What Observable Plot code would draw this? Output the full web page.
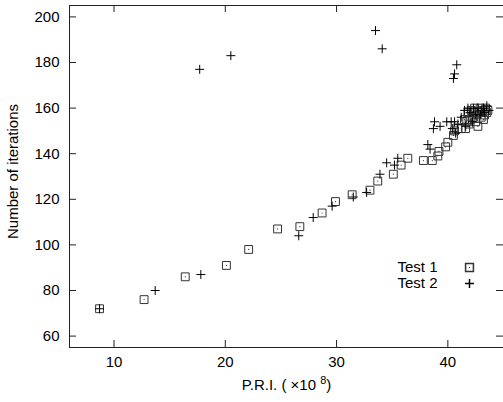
<!DOCTYPE html>
<html><head><meta charset="utf-8">
<script src="https://cdn.jsdelivr.net/npm/d3@7"></script>
<script src="https://cdn.jsdelivr.net/npm/@observablehq/plot@0.6"></script>
<style>body{margin:0;background:#fff} svg{display:block}</style>
</head><body><div id="chart"></div>
<script>
const seriesNames = ["Test 1", "Test 2"];
const xTicks = [10, 20, 30, 40];
const yTicks = [60, 80, 100, 120, 140, 160, 180, 200];

const test1PRI  = [8.7, 12.7, 16.4, 20.1, 22.1, 24.7, 26.7, 28.7, 29.9, 31.4, 33.0, 33.7, 35.1, 35.8, 36.4, 37.8, 38.6, 39.1, 39.2, 39.8, 40.0, 40.5, 40.6, 40.9, 41.2, 41.6, 41.7, 41.9, 42.0, 42.2, 42.3, 42.5, 42.6, 42.8, 43.0, 43.1, 43.3, 43.5, 43.6, 42.1, 41.8, 42.9, 43.4, 42.4, 41.5, 42.7, 43.2];
const test1Iter = [72, 76, 86, 91, 98, 107, 108, 114, 119, 122, 124, 128, 131, 135, 138, 137, 137, 139, 141, 143, 145, 148, 150, 151, 151, 151, 154, 153, 155, 156, 158, 154, 157, 158, 156, 159, 157, 158, 159, 159, 158, 160, 160, 160, 155, 152, 155];

const test2PRI  = [8.7, 13.7, 17.8, 17.7, 20.5, 26.6, 27.9, 29.6, 31.5, 32.7, 33.9, 33.5, 34.1, 34.5, 35.2, 35.5, 38.2, 38.4, 38.7, 38.8, 39.3, 39.9, 40.3, 40.6, 40.8, 40.6, 40.5, 40.9, 41.2, 41.5, 41.8, 42.0, 42.3, 42.5, 42.7, 43.0, 43.2, 43.5, 43.7, 42.9, 41.6, 42.2, 43.3, 40.7, 40.4];
const test2Iter = [72, 80, 87, 177, 183, 104, 112, 117, 121, 123, 131, 194, 186, 136, 135, 138, 144, 142, 151, 154, 152, 154, 154, 154, 179, 175, 173, 153, 156, 159, 160, 158, 160, 157, 160, 159, 160, 161, 159, 157, 152, 154, 158, 149, 151];

const test1 = test1PRI.map((x, i) => ({x, y: test1Iter[i]}));
const test2 = test2PRI.map((x, i) => ({x, y: test2Iter[i]}));

const W = 503, H = 402, mL = 69, mR = 0, mT = 5, mB = 55;
const fw = W - mL - mR, fh = H - mT - mB, tl = 7;
const sqR = 5.0, plR = 3.0;

const chart = Plot.plot({
  width: W, height: H,
  marginLeft: mL, marginRight: mR, marginTop: mT, marginBottom: mB,
  style: {fontFamily: "'Liberation Sans', Arial, Helvetica, sans-serif", fontSize: "15px", color: "#000", background: "#fff"},
  x: {domain: [6, 45]},
  y: {domain: [55, 205]},
  marks: [
    Plot.frame({stroke: "#222", strokeWidth: 1}),
    Plot.tickX(xTicks, {x: d => d, insetTop: fh - tl, stroke: "#222"}),
    Plot.tickX(xTicks, {x: d => d, insetBottom: fh - tl, stroke: "#222"}),
    Plot.tickY(yTicks, {y: d => d, insetRight: fw - tl, stroke: "#222"}),
    Plot.tickY(yTicks, {y: d => d, insetLeft: fw - tl, stroke: "#222"}),
    Plot.axisX({ticks: xTicks, tickSize: 0, tickPadding: 9, label: null, fill: "#000"}),
    Plot.axisY({ticks: yTicks, tickSize: 0, tickPadding: 10, label: null, fill: "#000"}),
    Plot.dot(test1, {x: "x", y: "y", symbol: "square2", r: sqR, stroke: "#333", strokeWidth: 1}),
    Plot.dot(test1, {x: "x", y: "y", r: 0.6, fill: "#333", stroke: "none"}),
    Plot.dot(test2, {x: "x", y: "y", symbol: "plus", r: plR, stroke: "#000", strokeWidth: 1}),
    Plot.text([seriesNames[0]], {frameAnchor: "top-right", textAnchor: "end", lineAnchor: "middle", dx: -66, dy: 262, fill: "#000"}),
    Plot.text([seriesNames[1]], {frameAnchor: "top-right", textAnchor: "end", lineAnchor: "middle", dx: -66, dy: 278, fill: "#000"}),
    Plot.dot([0], {frameAnchor: "top-right", dx: -34, dy: 262, symbol: "square2", r: sqR, stroke: "#333"}),
    Plot.dot([0], {frameAnchor: "top-right", dx: -34, dy: 262, r: 0.6, fill: "#333", stroke: "none"}),
    Plot.dot([0], {frameAnchor: "top-right", dx: -34, dy: 278, symbol: "plus", r: plR, stroke: "#000"}),
    Plot.text(["P.R.I. ( ×10 8)"], {frameAnchor: "bottom", lineAnchor: "middle", dy: 38, fill: "#000"}),
    Plot.text(["Number of iterations"], {frameAnchor: "left", textAnchor: "middle", lineAnchor: "middle", rotate: -90, dx: -56, dy: -5, fill: "#000"})
  ]
});
document.getElementById("chart").appendChild(chart);

d3.select(chart).selectAll("text").each(function() {
  if (this.textContent === "P.R.I. ( ×10 8)") {
    const t = d3.select(this);
    t.text(null);
    t.append("tspan").text("P.R.I. ( ×10 ");
    t.append("tspan").attr("dy", "-6").attr("font-size", "11px").text("8");
    t.append("tspan").attr("dy", "6").text(")");
  }
});
</script>
</body></html>
